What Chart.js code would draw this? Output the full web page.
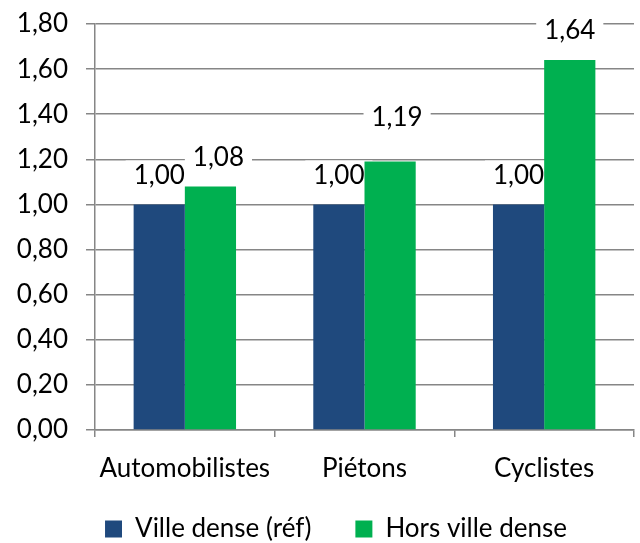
<!DOCTYPE html>
<html><head><meta charset="utf-8">
<script src="https://cdn.jsdelivr.net/npm/chart.js@4"></script>
<style>html,body{margin:0;padding:0;background:#fff}#wrap{width:640px;height:543px}</style>
</head><body><div id="wrap"><canvas id="c" width="640" height="543"></canvas></div>
<script>
const categories = ["Automobilistes", "Piétons", "Cyclistes"];
const villeDense = [1.00, 1.00, 1.00];
const horsVilleDense = [1.08, 1.19, 1.64];
const seriesNames = ["Ville dense (réf)", "Hors ville dense"];
const yTicks = [0, 0.2, 0.4, 0.6, 0.8, 1.0, 1.2, 1.4, 1.6, 1.8];

const FONT = "Lato, 'Open Sans', sans-serif";
const FS = 26;
const fmt = v => v.toFixed(2).replace('.', ',');

// label placement tweaks (dataset, index) -> [dx, dy]
const labelShift = {"1-0": [8, 0], "1-1": [7, -15]};

const labelPlugin = {
  id: 'valueLabels',
  beforeDatasetsDraw(chart) {
    const ctx = chart.ctx;
    ctx.save();
    ctx.font = FS + "px " + FONT;
    ctx.textAlign = 'center';
    ctx.textBaseline = 'middle';
    chart.data.datasets.forEach((ds, di) => {
      const meta = chart.getDatasetMeta(di);
      meta.data.forEach((bar, i) => {
        const s = labelShift[di + '-' + i] || [0, 0];
        const x = bar.x + s[0];
        const y = bar.y - 30 + s[1];
        const t = fmt(ds.data[i]);
        const w = ctx.measureText(t).width;
        ctx.fillStyle = '#fff';
        ctx.fillRect(x - w / 2 - 8, y - 14, w + 16, 28);
        ctx.fillStyle = '#000';
        ctx.fillText(t, x, y + 1);
      });
    });
    ctx.restore();
  }
};

const legendShift = {
  id: 'legendShift',
  afterLayout(chart) {
    const L = chart.legend;
    if (L) { L.left += 19; L.right += 19; L.top -= 14; }
  }
};

new Chart(document.getElementById('c'), {
  type: 'bar',
  data: {
    labels: categories,
    datasets: [
      {label: seriesNames[0], data: villeDense, backgroundColor: '#1F497D', barPercentage: 1.0, categoryPercentage: 0.57},
      {label: seriesNames[1], data: horsVilleDense, backgroundColor: '#00B050', barPercentage: 1.0, categoryPercentage: 0.57}
    ]
  },
  options: {
    responsive: false,
    animation: false,
    layout: {padding: {top: 24, right: 6, left: 0, bottom: 0}},
    plugins: {
      legend: {
        position: 'bottom',
        maxHeight: 57,
        labels: {font: {family: FONT, size: FS}, color: '#000', boxWidth: 17, boxHeight: 17, padding: 44, useBorderRadius: false}
      },
      tooltip: {enabled: false}
    },
    scales: {
      x: {
        afterFit: axis => { axis.height = 56; },
        grid: {display: true, offset: true, drawOnChartArea: false, drawTicks: true, tickLength: 7, color: '#868686', lineWidth: 1.5},
        border: {display: true, color: '#868686', width: 1.5},
        ticks: {font: {family: FONT, size: FS}, color: '#000', padding: 16}
      },
      y: {
        min: 0, max: 1.8,
        afterBuildTicks: axis => { axis.ticks = yTicks.map(v => ({value: v})); },
        afterFit: axis => { axis.width = 95; axis.paddingTop = 0; axis.paddingBottom = 0; },
        grid: {color: '#868686', lineWidth: 1.5, tickLength: 9},
        border: {display: true, color: '#868686', width: 1.5},
        ticks: {font: {family: FONT, size: FS}, color: '#000', padding: 18, callback: v => fmt(v)}
      }
    }
  },
  plugins: [labelPlugin, legendShift]
});
</script></body></html>
